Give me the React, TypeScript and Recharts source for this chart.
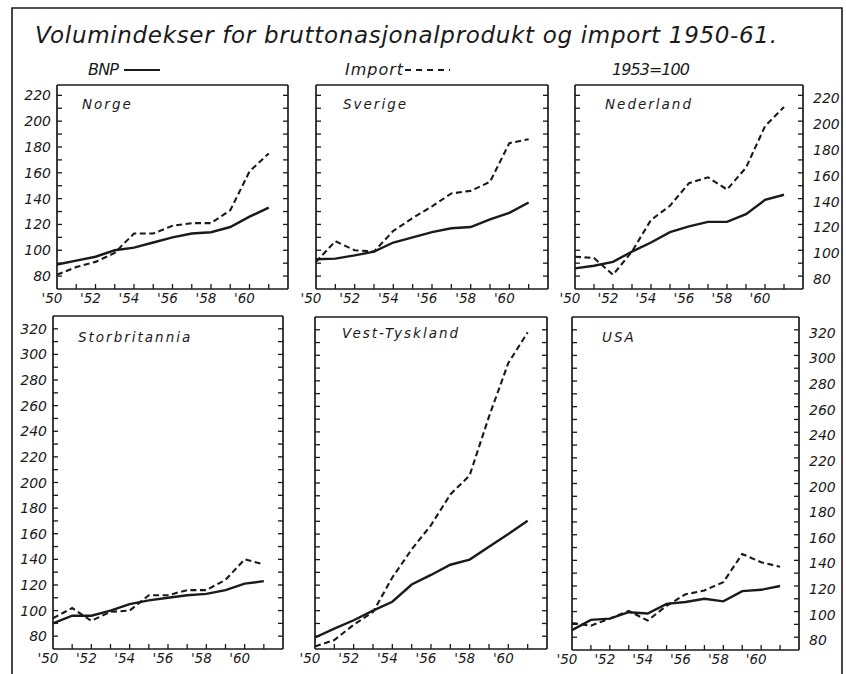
import React from "react";
import { LineChart, Line, XAxis, YAxis, ReferenceLine } from "recharts";

// years on the x axis, one value per year for every series
const years = [1950, 1951, 1952, 1953, 1954, 1955, 1956, 1957, 1958, 1959, 1960, 1961];
const yearTicks = [1950, 1952, 1954, 1956, 1958, 1960];
const yearLabels = ["'50", "'52", "'54", "'56", "'58", "'60"];
const yearMarks = [1950, 1951, 1952, 1953, 1954, 1955, 1956, 1957, 1958, 1959, 1960, 1961];

const topTicks = [80, 100, 120, 140, 160, 180, 200, 220];
const topMarks = [80, 90, 100, 110, 120, 130, 140, 150, 160, 170, 180, 190, 200, 210, 220];
const bottomTicks = [80, 100, 120, 140, 160, 180, 200, 220, 240, 260, 280, 300, 320];
const bottomMarks = [
  80, 90, 100, 110, 120, 130, 140, 150, 160, 170, 180, 190, 200, 210, 220, 230, 240, 250,
  260, 270, 280, 290, 300, 310, 320,
];

const norgeBnp = [89, 92, 95, 100, 102, 106, 110, 113, 114, 118, 126, 133];
const norgeImport = [81, 87, 91, 98, 113, 113, 119, 121, 121, 131, 161, 175];
const sverigeBnp = [93, 93.5, 96, 99, 106, 110, 114, 117, 118, 124, 129, 137];
const sverigeImport = [91, 107, 100, 99, 115, 125, 134, 144, 146, 153, 183, 186];
const nederlandBnp = [86, 88, 91, 99, 106, 114, 118.5, 122, 122, 128, 139, 143];
const nederlandImport = [95, 94, 81, 99, 123.5, 134.5, 152, 156.5, 147, 164, 196, 211];
const storbritanniaBnp = [90, 96, 96, 100, 105, 108, 110, 112, 113, 116, 121, 123];
const storbritanniaImport = [94, 102, 92, 99, 100, 112, 112, 116, 116, 124, 140, 136];
const vestTysklandBnp = [79, 86, 92.5, 100, 107, 120.5, 128, 136, 140, 150, 160, 170.5];
const vestTysklandImport = [72, 77, 89, 99, 126, 148, 167, 191, 206, 252, 294, 318];
const usaBnp = [85.5, 93.5, 94.5, 99.5, 98.5, 106, 107.5, 110, 108, 116, 117, 120];
const usaImport = [91, 89, 94.5, 100.5, 93, 104.5, 113.5, 116.5, 123, 145, 138.5, 135];

const ink = "#1a1a1a";
const font = "'DejaVu Sans', Verdana, sans-serif";

const PAD_L = 50;
const PAD_R = 45;
const PAD_T = 5;
const AXIS_H = 22;
const TICK = 5;

type Box = { x: number; y: number; w: number; h: number };
type Side = "left" | "right" | "none";

// bottom axis: short tick pointing up into the panel every year, label every second year
const makeYearTick = (plotBottom: number) => (props: any) => {
  const { x, payload } = props;
  const idx = yearTicks.indexOf(payload.value);
  return (
    <g>
      {payload.value > 1950 && (
        <path d={`M${x},${plotBottom} v${-TICK}`} stroke={ink} strokeWidth={1.3} fill="none" />
      )}
      {idx >= 0 && (
        <text x={x - 5} y={plotBottom + 14} textAnchor="middle" fill={ink} fontSize={13.5} fontStyle="italic" fontFamily={font}>
          {yearLabels[idx]}
        </text>
      )}
    </g>
  );
};

// value axis: short ticks pointing into the panel on both edges, labels on one side
const makeValueTick = (side: Side, labelled: number[], plotW: number) => (props: any) => {
  const { y, payload } = props;
  const xl = PAD_L;
  const xr = PAD_L + plotW;
  const show = side !== "none" && labelled.includes(payload.value);
  return (
    <g>
      <path d={`M${xl},${y} h${TICK}`} stroke={ink} strokeWidth={1.3} fill="none" />
      <path d={`M${xr},${y} h${-TICK}`} stroke={ink} strokeWidth={1.3} fill="none" />
      {show && (
        <text
          x={side === "right" ? xr + 10 : xl - 6}
          y={side === "right" ? y + 3 : y}
          textAnchor={side === "right" ? "start" : "end"}
          dominantBaseline="central"
          fill={ink}
          fontSize={14}
          fontStyle="italic"
          fontFamily={font}
        >
          {payload.value}
        </text>
      )}
    </g>
  );
};

type PanelProps = {
  bnp: number[];
  imp: number[];
  box: Box;
  domain: [number, number];
  ticks: number[];
  marks: number[];
  side: Side;
};

function Panel({ bnp, imp, box, domain, ticks, marks, side }: PanelProps) {
  const rows = years.map((year, i) => ({ year, bnp: bnp[i], imp: imp[i] }));
  return (
    <div style={{ position: "absolute", left: box.x - PAD_L, top: box.y - PAD_T }}>
      <LineChart
        width={box.w + PAD_L + PAD_R}
        height={box.h + PAD_T + AXIS_H}
        data={rows}
        margin={{ top: PAD_T, bottom: 0, left: 0, right: PAD_R }}
      >
        <XAxis
          dataKey="year"
          type="number"
          domain={[1950, 1962]}
          ticks={yearMarks}
          interval={0}
          height={AXIS_H}
          axisLine={{ stroke: ink, strokeWidth: 1.7 }}
          tickLine={false}
          tick={makeYearTick(PAD_T + box.h)}
        />
        <YAxis
          orientation="left"
          width={PAD_L}
          domain={domain}
          ticks={marks}
          interval={0}
          axisLine={{ stroke: ink, strokeWidth: 1.7 }}
          tickLine={false}
          tick={makeValueTick(side, ticks, box.w)}
        />
        <ReferenceLine y={domain[1]} stroke={ink} strokeWidth={1.7} />
        <ReferenceLine x={1962} stroke={ink} strokeWidth={1.7} />
        <Line
          type="linear"
          dataKey="bnp"
          stroke={ink}
          strokeWidth={2.4}
          dot={false}
          isAnimationActive={false}
        />
        <Line
          type="linear"
          dataKey="imp"
          stroke={ink}
          strokeWidth={2.1}
          strokeDasharray="6 3.5"
          dot={false}
          isAnimationActive={false}
        />
      </LineChart>
    </div>
  );
}

const topDomain: [number, number] = [70, 228];
const bottomDomain: [number, number] = [70, 330];

const panels = [
  { name: "Norge", bnp: norgeBnp, imp: norgeImport, box: { x: 57, y: 85, w: 231, h: 204 }, side: "left" as Side, top: true, nx: 25, ny: 24 },
  { name: "Sverige", bnp: sverigeBnp, imp: sverigeImport, box: { x: 316, y: 85, w: 232, h: 204 }, side: "none" as Side, top: true, nx: 27, ny: 24 },
  { name: "Nederland", bnp: nederlandBnp, imp: nederlandImport, box: { x: 575, y: 85, w: 228, h: 204 }, side: "right" as Side, top: true, nx: 30, ny: 24 },
  { name: "Storbritannia", bnp: storbritanniaBnp, imp: storbritanniaImport, box: { x: 53, y: 316, w: 230, h: 333 }, side: "left" as Side, top: false, nx: 25, ny: 26 },
  { name: "Vest-Tyskland", bnp: vestTysklandBnp, imp: vestTysklandImport, box: { x: 315, y: 317, w: 232, h: 332 }, side: "none" as Side, top: false, nx: 27, ny: 21 },
  { name: "USA", bnp: usaBnp, imp: usaImport, box: { x: 572, y: 317, w: 227, h: 333 }, side: "right" as Side, top: false, nx: 30, ny: 25 },
];

export default function App() {
  return (
    <div style={{ position: "absolute", left: 0, top: 0, width: 846, height: 674, background: "#fff", overflow: "hidden" }}>
      {panels.map((p) => (
        <Panel
          key={p.name}
          bnp={p.bnp}
          imp={p.imp}
          box={p.box}
          domain={p.top ? topDomain : bottomDomain}
          ticks={p.top ? topTicks : bottomTicks}
          marks={p.top ? topMarks : bottomMarks}
          side={p.side}
        />
      ))}
      <svg width={846} height={674} style={{ position: "absolute", left: 0, top: 0, pointerEvents: "none" }}>
        <path d="M12 674 V8 H842 V674" fill="none" stroke={ink} strokeWidth={1.6} />
        <text x={35} y={43} fontSize={23} fontStyle="italic" fontFamily={font} fill={ink} textLength={742} lengthAdjust="spacing">
          Volumindekser for bruttonasjonalprodukt og import 1950-61.
        </text>
        <text x={88} y={75} fontSize={16} fontStyle="italic" fontFamily={font} fill={ink} textLength={31} lengthAdjust="spacing">
          BNP
        </text>
        <line x1={124} x2={160} y1={70} y2={70} stroke={ink} strokeWidth={2} />
        <text x={345} y={75} fontSize={16} fontStyle="italic" fontFamily={font} fill={ink} letterSpacing={1}>
          Import
        </text>
        <line x1={405} x2={450} y1={70} y2={70} stroke={ink} strokeWidth={2} strokeDasharray="6 5" />
        <text x={612} y={75} fontSize={16} fontStyle="italic" fontFamily={font} fill={ink} textLength={78} lengthAdjust="spacing">
          1953=100
        </text>
        {panels.map((p) => (
          <text
            key={p.name}
            x={p.box.x + p.nx}
            y={p.box.y + p.ny}
            fontSize={13.5}
            fontStyle="italic"
            fontFamily={font}
            fill={ink}
            letterSpacing={2}
          >
            {p.name}
          </text>
        ))}
      </svg>
    </div>
  );
}
